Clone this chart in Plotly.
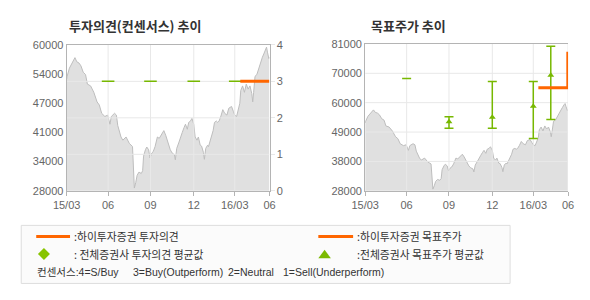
import plotly.graph_objects as go

# ---------------- data ----------------
price_dates = [
    "2015-03-03", "2015-03-04", "2015-03-09", "2015-03-15", "2015-03-21", "2015-03-25", "2015-03-30",
    "2015-04-03", "2015-04-08", "2015-04-13", "2015-04-17", "2015-04-24", "2015-05-01", "2015-05-08",
    "2015-05-13", "2015-05-18", "2015-05-25", "2015-05-31", "2015-06-05", "2015-06-08", "2015-06-15",
    "2015-06-19", "2015-06-22", "2015-06-29", "2015-07-03", "2015-07-10", "2015-07-17", "2015-07-24",
    "2015-07-26", "2015-07-28", "2015-07-31", "2015-08-03", "2015-08-07", "2015-08-12", "2015-08-15",
    "2015-08-17", "2015-08-21", "2015-08-24", "2015-08-28", "2015-08-31", "2015-09-04", "2015-09-07",
    "2015-09-11", "2015-09-16", "2015-09-20", "2015-09-25", "2015-09-30", "2015-10-04", "2015-10-09",
    "2015-10-14", "2015-10-18", "2015-10-23", "2015-10-25", "2015-10-28", "2015-11-02", "2015-11-06",
    "2015-11-09", "2015-11-13", "2015-11-16", "2015-11-20", "2015-11-23", "2015-11-27", "2015-11-30",
    "2015-12-04", "2015-12-07", "2015-12-11", "2015-12-14", "2015-12-18", "2015-12-21", "2015-12-25",
    "2015-12-27", "2015-12-30", "2016-01-03", "2016-01-05", "2016-01-10", "2016-01-15", "2016-01-18",
    "2016-01-22", "2016-01-25", "2016-01-28", "2016-02-01", "2016-02-05", "2016-02-09", "2016-02-14",
    "2016-02-18", "2016-02-24", "2016-02-28", "2016-03-02", "2016-03-06", "2016-03-08", "2016-03-13",
    "2016-03-15", "2016-03-19", "2016-03-23", "2016-03-27", "2016-03-31", "2016-04-04", "2016-04-08",
    "2016-04-10", "2016-04-12", "2016-04-15", "2016-04-19", "2016-04-24", "2016-04-27", "2016-05-01",
    "2016-05-04", "2016-05-08", "2016-05-10", "2016-05-12", "2016-05-15", "2016-05-16",
]
price = [
    52500, 53100, 54900, 55900, 57200, 56300, 56000,
    55400, 54000, 53500, 51400, 51000, 49600, 47500,
    46800, 45000, 44300, 44600, 42600, 44300, 45000,
    44600, 42300, 39800, 39100, 39800, 38400, 37700,
    33000, 28600, 29800, 31400, 32100, 31800, 32400,
    35600, 37000, 37600, 37000, 35200, 36300, 36600,
    37700, 39800, 39500, 40500, 41200, 40200, 38400,
    37000, 36300, 35900, 34800, 37300, 38700, 40200,
    40800, 41900, 42600, 41500, 43000, 43300, 43900,
    42600, 39800, 39100, 39800, 38000, 37800, 36400,
    34900, 37300, 38000, 37700, 39500, 41200, 43000,
    43300, 43000, 43300, 44400, 45800, 45000, 44600,
    46100, 46500, 45400, 44600, 44300, 45000, 47200,
    50000, 51000, 49600, 51400, 50300, 51000, 49300,
    47500, 49600, 53100, 53500, 55200, 55900, 57300,
    58000, 59100, 59500, 58400, 57000, 57300,
]

# 하이투자증권 투자의견 (rating) and 목표주가 (target price)
hi_opinion_dates = ["2016-03-14", "2016-05-16"]
hi_opinion = [3, 3]
hi_target_dates = ["2016-03-13", "2016-05-16", "2016-05-16"]
hi_target = [65200, 65200, 78200]

# 전체증권사 consensus
cons_opinion_dates = ["2015-06-01", "2015-09-01", "2015-12-04", "2016-03-03"]
cons_opinion = [3, 3, 3, 3]
cons_target_dates = ["2015-06-01", "2015-09-01", "2015-12-04", "2016-03-02", "2016-04-09"]
cons_target_mean = [None, 52900, 54500, 58500, 69700]
cons_target_min = [68500, 50600, 50600, 46900, 53700]
cons_target_max = [68500, 54700, 67400, 67400, 80200]

x_range = ["2015-03-03", "2016-05-16 12:00"]
x_tickvals = ["2015-03-03", "2015-06-01", "2015-09-01", "2015-12-04", "2016-03-02", "2016-05-16 12:00"]
x_ticktext = ["15/03", "06", "09", "12", "16/03", "06"]

left_range = [28000, 60000]
left_tickvals = [28000, 34400, 40800, 47200, 53600, 60000]
left_ticktext = ["28000", "34000", "41000", "47000", "54000", "60000"]
rating_range = [0, 4]
rating_tickvals = [0, 1, 2, 3, 4]
right_range = [28000, 81000]
right_tickvals = [28000, 38600, 49200, 59800, 70400, 81000]
right_ticktext = ["28000", "38000", "49000", "60000", "70000", "81000"]

# ---------------- styles ----------------
W, H = 590, 300
ORANGE = "#ff6600"
GREEN = "#77b800"
FILL = "#e0e0e0"
PLINE = "#bdbdbd"
GRID = "#e8e8e8"
AXIS = "#b4b4b4"
TICKFONT = dict(family="Liberation Sans, Arial, sans-serif", size=11, color="#666666")
KFONT = "Noto Sans CJK KR"


def px_x(v):
    return v / W


def px_y(v):
    return 1 - v / H


fig = go.Figure()

# ---- left chart ----
fig.add_trace(go.Scatter(x=price_dates, y=price, xaxis="x", yaxis="y", mode="lines",
                         line=dict(color=PLINE, width=1), fill="tozeroy", fillcolor=FILL,
                         hoverinfo="skip"))
# grid drawn above the area (as in the reference), below the markers
for v in rating_tickvals[1:-1]:
    fig.add_trace(go.Scatter(x=x_range, y=[v, v], xaxis="x", yaxis="y2", mode="lines",
                             line=dict(color=GRID, width=1), hoverinfo="skip"))
for t in x_tickvals[1:-1]:
    fig.add_trace(go.Scatter(x=[t, t], y=rating_range, xaxis="x", yaxis="y2", mode="lines",
                             line=dict(color=GRID, width=1), hoverinfo="skip"))
fig.add_trace(go.Scatter(x=cons_opinion_dates, y=cons_opinion, xaxis="x", yaxis="y2", mode="markers",
                         marker=dict(symbol="line-ew", size=9, line=dict(color=GREEN, width=1.5))))
fig.add_trace(go.Scatter(x=hi_opinion_dates, y=hi_opinion, xaxis="x", yaxis="y2", mode="lines",
                         line=dict(color=ORANGE, width=3)))

# ---- right chart ----
fig.add_trace(go.Scatter(x=price_dates, y=price, xaxis="x2", yaxis="y3", mode="lines",
                         line=dict(color=PLINE, width=1), fill="tozeroy", fillcolor=FILL,
                         hoverinfo="skip"))
for v in right_tickvals[1:-1]:
    fig.add_trace(go.Scatter(x=x_range, y=[v, v], xaxis="x2", yaxis="y3", mode="lines",
                             line=dict(color=GRID, width=1), hoverinfo="skip"))
for t in x_tickvals[1:]:
    fig.add_trace(go.Scatter(x=[t, t], y=right_range, xaxis="x2", yaxis="y3", mode="lines",
                             line=dict(color=GRID, width=1), hoverinfo="skip"))
fig.add_trace(go.Scatter(x=cons_target_dates, y=cons_target_min, xaxis="x2", yaxis="y3", mode="markers",
                         marker=dict(size=1, color="rgba(0,0,0,0)"),
                         error_y=dict(type="data", symmetric=False,
                                      array=[mx - mn for mx, mn in zip(cons_target_max, cons_target_min)],
                                      arrayminus=[0] * len(cons_target_min),
                                      color=GREEN, thickness=1.5, width=4.5)))
fig.add_trace(go.Scatter(x=cons_target_dates, y=cons_target_mean, xaxis="x2", yaxis="y3", mode="markers",
                         marker=dict(symbol="triangle-up", size=6, color=GREEN)))
fig.add_trace(go.Scatter(x=hi_target_dates, y=hi_target, xaxis="x2", yaxis="y3", mode="lines",
                         line=dict(color=ORANGE, width=3)))

common_x = dict(type="date", range=x_range, tickvals=x_tickvals, ticktext=x_ticktext,
                showgrid=False, showline=True, linecolor=AXIS, linewidth=1,
                ticks="outside", ticklen=4, tickcolor=AXIS, tickfont=TICKFONT, zeroline=False,
                fixedrange=True)

fig.update_layout(
    width=W, height=H, margin=dict(l=0, r=0, t=0, b=0),
    paper_bgcolor="white", plot_bgcolor="white", showlegend=False,
    xaxis=dict(domain=[px_x(54.5), px_x(264.5)], anchor="y", mirror=True, **common_x),
    yaxis=dict(domain=[px_y(192.5), px_y(40.5)], range=left_range, tickvals=left_tickvals,
               ticktext=left_ticktext, showgrid=False, showline=True, linecolor=AXIS, ticks="",
               tickfont=TICKFONT, zeroline=False),
    yaxis2=dict(overlaying="y", side="right", anchor="x", range=rating_range, tickvals=rating_tickvals,
                showgrid=False, showline=True, linecolor=AXIS, ticks="outside",
                ticklen=4, tickcolor=GRID, tickfont=TICKFONT, zeroline=False),
    xaxis2=dict(domain=[px_x(363.5), px_x(573.5)], anchor="y3", mirror=True, **common_x),
    yaxis3=dict(domain=[px_y(192.5), px_y(39.5)], anchor="x2", range=right_range,
                tickvals=right_tickvals, ticktext=right_ticktext, showgrid=False,
                showline=True, linecolor=AXIS, ticks="", tickfont=TICKFONT, zeroline=False),
)

# titles
fig.add_annotation(text="<b>투자의견(컨센서스) 추이</b>", xref="paper", yref="paper", x=px_x(55), y=px_y(20),
                   xanchor="left", yanchor="middle", showarrow=False,
                   font=dict(family=KFONT, size=13, color="#333333"))
fig.add_annotation(text="<b>목표주가 추이</b>", xref="paper", yref="paper", x=px_x(367), y=px_y(20),
                   xanchor="left", yanchor="middle", showarrow=False,
                   font=dict(family=KFONT, size=13, color="#333333"))

# legend box
fig.add_shape(type="rect", xref="paper", yref="paper", x0=px_x(7.5), x1=px_x(513.5),
              y0=px_y(289), y1=px_y(228.5), line=dict(color="#dddddd", width=1), fillcolor="#fbfbfb",
              layer="below")
fig.add_shape(type="line", xref="paper", yref="paper", x0=px_x(23), x1=px_x(58), y0=px_y(240), y1=px_y(240),
              line=dict(color=ORANGE, width=3))
fig.add_shape(type="line", xref="paper", yref="paper", x0=px_x(315), x1=px_x(351), y0=px_y(240), y1=px_y(240),
              line=dict(color=ORANGE, width=3))
fig.add_shape(type="path", xref="paper", yref="paper",
              path=f"M {px_x(31)},{px_y(252)} L {px_x(37.2)},{px_y(258.3)} L {px_x(31)},{px_y(264.6)} "
                   f"L {px_x(24.8)},{px_y(258.3)} Z",
              line=dict(width=0), fillcolor="#88c400")
fig.add_shape(type="path", xref="paper", yref="paper",
              path=f"M {px_x(321.5)},{px_y(254)} L {px_x(328)},{px_y(262.7)} L {px_x(315)},{px_y(262.7)} Z",
              line=dict(width=0), fillcolor="#7cba00")

LEGFONT = dict(family=KFONT, size=10.8, color="#333333")
SMALLFONT = dict(family="Liberation Sans, " + KFONT, size=10.5, color="#333333")
legend_texts = [
    (":하이투자증권 투자의견", 60, 240, LEGFONT),
    (":하이투자증권 목표주가", 352.5, 240, LEGFONT),
    (": 전체증권사 투자의견 평균값", 60, 258.5, LEGFONT),
    (":전체증권사 목표주가 평균값", 353, 258.5, LEGFONT),
    ("컨센서스:4=S/Buy", 21.5, 277.5, SMALLFONT),
    ("3=Buy(Outperform)", 121.5, 277.5, SMALLFONT),
    ("2=Neutral", 219.5, 277.5, SMALLFONT),
    ("1=Sell(Underperform)", 276, 277.5, SMALLFONT),
]
for t, x, y, f in legend_texts:
    fig.add_annotation(text=t, xref="paper", yref="paper", x=px_x(x), y=px_y(y), xanchor="left",
                       yanchor="middle", showarrow=False, font=f)

fig.write_html("out.html")
